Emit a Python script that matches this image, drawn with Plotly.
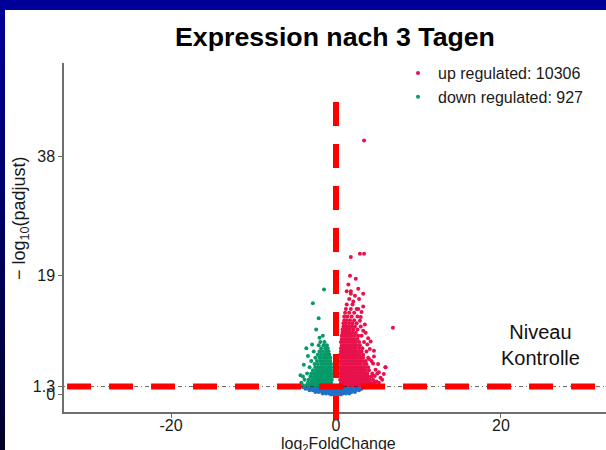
import plotly.graph_objects as go

# ---------------- data ----------------
# up regulated: rows of log2FoldChange values at given -log10(padj) levels
up_rows = {
    1.5: [0.5, 0.8, 1.1, 1.4, 1.7, 2.0, 2.3, 2.6, 2.9, 3.2, 3.5, 3.8, 4.1, 4.4, 4.8],
    1.9: [0.6, 0.9, 1.2, 1.5, 1.8, 2.1, 2.4, 2.7, 3.0, 3.3, 3.6, 3.9, 4.2, 4.6, 5.2],
    2.4: [0.5, 0.8, 1.1, 1.4, 1.7, 2.0, 2.3, 2.6, 2.9, 3.2, 3.5, 3.8, 4.1, 4.5, 5.6],
    2.9: [0.6, 0.9, 1.2, 1.5, 1.8, 2.1, 2.4, 2.7, 3.0, 3.3, 3.6, 3.9, 4.3],
    3.4: [0.5, 0.8, 1.1, 1.4, 1.7, 2.0, 2.3, 2.6, 2.9, 3.2, 3.5, 3.8, 4.4, 5.0],
    3.9: [0.6, 0.9, 1.2, 1.5, 1.8, 2.1, 2.4, 2.7, 3.0, 3.3, 3.6, 4.0],
    4.4: [0.5, 0.8, 1.1, 1.4, 1.7, 2.0, 2.3, 2.6, 2.9, 3.2, 3.5, 3.9, 6.0],
    4.9: [0.6, 0.9, 1.2, 1.5, 1.8, 2.1, 2.4, 2.7, 3.0, 3.4, 3.7],
    5.4: [0.5, 0.8, 1.1, 1.4, 1.7, 2.0, 2.3, 2.6, 2.9, 3.2, 3.6, 4.3],
    5.9: [0.6, 0.9, 1.2, 1.5, 1.8, 2.1, 2.4, 2.7, 3.0, 3.3, 3.9],
    6.4: [0.5, 0.8, 1.1, 1.4, 1.7, 2.0, 2.3, 2.6, 2.9, 3.3],
    6.9: [0.6, 0.9, 1.2, 1.5, 1.8, 2.1, 2.4, 2.7, 3.1, 3.7],
    7.4: [0.6, 0.9, 1.2, 1.5, 1.8, 2.1, 2.4, 2.8, 3.2],
    7.9: [0.7, 1.0, 1.3, 1.6, 1.9, 2.2, 2.5, 2.9],
    8.4: [0.6, 0.9, 1.2, 1.5, 1.8, 2.1, 2.4, 2.8, 3.4],
    8.9: [0.7, 1.0, 1.3, 1.6, 1.9, 2.2, 2.6],
    9.4: [0.7, 1.0, 1.3, 1.6, 1.9, 2.3, 2.7, 3.1],
    9.9: [0.8, 1.1, 1.4, 1.7, 2.0, 2.4],
    10.4: [0.8, 1.1, 1.4, 1.7, 2.1, 2.6],
    10.9: [0.9, 1.2, 1.5, 1.9, 2.3, 3.0],
    11.4: [0.9, 1.2, 1.6, 2.0, 2.5],
    11.9: [1.0, 1.3, 1.7, 2.2],
    12.5: [1.0, 1.4, 1.9, 2.6],
    13.1: [1.1, 1.6, 2.2],
    13.7: [1.2, 1.8, 2.5],
    14.4: [1.3, 2.0],
}
up_extra_x = [1.3, 1.8, 1.8, 3.3, 2.7, 1.6, 2.8, 1.7, 2.4, 1.8, 2.9, 3.4, 3.4, 6.9, 6.0,
              2.3, 1.5, 2.1, 3.1, 2.9, 3.6, 4.1, 4.6, 5.2,
              4.9, 5.4, 4.7, 4.8, 5.1, 4.5, 4.0, 4.6, 3.8, 3.9, 3.3, 3.5, 5.8, 4.2, 3.0, 2.7, 3.3]
up_extra_y = [16.5, 16.5, 16.1, 16.1, 16.9, 15.3, 15.3, 19.0, 18.5, 22.0, 22.5, 22.5, 40.6, 10.7, 4.4,
              15.8, 17.6, 14.9, 13.2, 11.8, 9.9, 7.3, 6.1, 3.6,
              2.1, 2.7, 3.0, 4.0, 4.9, 5.0, 5.7, 7.0, 8.0, 9.0, 10.2, 11.2, 3.3, 8.5, 12.4, 13.7, 14.1]

# down regulated
down_rows = {
    1.5: [-0.5, -0.8, -1.1, -1.4, -1.7, -2.0, -2.3, -2.6, -2.9, -3.2, -3.6, -4.0],
    1.9: [-0.6, -0.9, -1.2, -1.5, -1.8, -2.1, -2.4, -2.7, -3.0, -3.4, -4.2],
    2.4: [-0.5, -0.8, -1.1, -1.4, -1.7, -2.0, -2.3, -2.6, -2.9, -3.3, -3.8],
    2.9: [-0.6, -0.9, -1.2, -1.5, -1.8, -2.1, -2.4, -2.7, -3.1, -4.0],
    3.4: [-0.5, -0.8, -1.1, -1.4, -1.7, -2.0, -2.3, -2.6, -3.0, -3.5],
    3.9: [-0.6, -0.9, -1.2, -1.5, -1.8, -2.1, -2.4, -2.8],
    4.4: [-0.6, -0.9, -1.2, -1.5, -1.8, -2.1, -2.5, -3.2],
    4.9: [-0.6, -0.9, -1.2, -1.5, -1.8, -2.2, -2.6],
    5.4: [-0.7, -1.0, -1.3, -1.6, -1.9, -2.3, -3.0],
    5.9: [-0.7, -1.0, -1.3, -1.6, -2.0, -2.5],
    6.4: [-0.8, -1.1, -1.4, -1.8, -2.2],
    6.9: [-0.9, -1.2, -1.6, -2.0, -2.7],
    7.4: [-1.0, -1.3, -1.8, -3.6],
    7.9: [-1.1, -1.5, -2.1],
    8.4: [-1.4, -1.9],
}
down_extra_x = [-1.45, -2.8, -2.1, -2.4, -1.6, -2.0, -3.4, -3.9, -4.3, -2.9]
down_extra_y = [16.8, 14.6, 12.2, 10.4, 9.4, 9.1, 6.2, 4.8, 3.1, 8.0]

# not significant
ns_rows = {
    1.2: [-4.0, -3.6, -3.2, -2.8, -2.4, -2.0, -1.6, -1.2, -0.8, -0.4, 0.0, 0.4, 0.8, 1.2, 1.6, 2.0, 2.4, 2.8, 3.2, 3.6],
    0.95: [-3.7, -3.3, -2.9, -2.5, -2.1, -1.7, -1.3, -0.9, -0.5, -0.1, 0.3, 0.7, 1.1, 1.5, 1.9, 2.3, 2.7, 3.1],
    0.7: [-3.2, -2.8, -2.4, -2.0, -1.6, -1.2, -0.8, -0.4, 0.0, 0.4, 0.8, 1.2, 1.6, 2.0, 2.4, 2.8],
    0.45: [-2.5, -2.1, -1.7, -1.3, -0.9, -0.5, -0.1, 0.3, 0.7, 1.1, 1.5, 1.9, 2.3],
    0.2: [-1.6, -1.2, -0.8, -0.4, 0.0, 0.4, 0.8, 1.2, 1.6],
    0.02: [-0.6, -0.2, 0.2, 0.6],
}

up_count = 10306
down_count = 927
threshold_y = 1.3
threshold_x = 0
y_tickvals = [0, 1.3, 19, 38]
y_ticktext = ["0", "1.3", "19", "38"]
x_tickvals = [-20, 0, 20]
x_ticktext = ["-20", "0", "20"]
x_range = [-32.97, 32.73]
y_range = [-2.76, 52.96]


def expand(rows, ex=None, ey=None):
    xs, ys = [], []
    for yv, xl in rows.items():
        for xv in xl:
            xs.append(xv)
            ys.append(yv)
    if ex:
        xs += ex
        ys += ey
    return xs, ys


up_x, up_y = expand(up_rows, up_extra_x, up_extra_y)
down_x, down_y = expand(down_rows, down_extra_x, down_extra_y)
ns_x, ns_y = expand(ns_rows)

# ---------------- layout geometry ----------------
W, H = 606, 450
L, R, T, B = 64, 0, 63, 38
PW, PH = W - L - R, H - T - B


def pxx(px):
    return (px - L) / PW


def pyy(py):
    return (H - B - py) / PH


FONT = "Liberation Sans, Arial, Helvetica, sans-serif"
UP_COL = "#E8114B"
DOWN_COL = "#069A6A"
NS_COL = "#2170C8"

fig = go.Figure()
fig.add_trace(go.Scatter(x=ns_x, y=ns_y, mode="markers", showlegend=False,
                         marker=dict(color=NS_COL, size=4, line=dict(width=0)), name="not significant"))
fig.add_trace(go.Scatter(x=up_x, y=up_y, mode="markers",
                         name=f"up regulated: {up_count}",
                         marker=dict(color=UP_COL, size=4, line=dict(width=0))))
fig.add_trace(go.Scatter(x=down_x, y=down_y, mode="markers",
                         name=f"down regulated: {down_count}",
                         marker=dict(color=DOWN_COL, size=4, line=dict(width=0))))

shapes = []
# blue slide background with white panel
shapes.append(dict(type="rect", xref="paper", yref="paper", layer="below",
                   x0=pxx(5), x1=pxx(620), y0=pyy(10), y1=pyy(470),
                   fillcolor="white", line=dict(width=0)))
# left strip gradient (dark towards bottom)
nb = 22
for i in range(nb):
    top = 10 + (H - 10) * i / nb
    bot = 10 + (H - 10) * (i + 1) / nb + 1
    f = i / (nb - 1)
    b = int(150 - f * 105)
    shapes.append(dict(type="rect", xref="paper", yref="paper", layer="below",
                       x0=pxx(-2), x1=pxx(5), y0=pyy(top), y1=pyy(bot),
                       fillcolor=f"rgb(0,0,{b})", line=dict(width=0)))
# thin dot-dash threshold line
shapes.append(dict(type="line", xref="x", yref="y", layer="above",
                   x0=x_range[0], x1=x_range[1] + 1, y0=threshold_y, y1=threshold_y,
                   line=dict(color="#222222", width=0.7, dash="1px,3px,4px,3px")))
# thick red dashed overlay lines
shapes.append(dict(type="line", xref="x", yref="y", layer="above",
                   x0=-32.6, x1=x_range[1] + 1, y0=threshold_y, y1=threshold_y,
                   line=dict(color="#FF0000", width=6, dash="24px,18px")))
shapes.append(dict(type="line", xref="x", yref="paper", layer="above",
                   x0=threshold_x, x1=threshold_x, y0=pyy(102), y1=pyy(420),
                   line=dict(color="#FF0000", width=6, dash="24px,18px")))

annotations = [
    dict(text="− log<sub>10</sub>(padjust)", xref="paper", yref="paper",
         x=pxx(20), y=pyy(218), textangle=-90, showarrow=False,
         xanchor="center", yanchor="middle", font=dict(size=18, color="#1a1a1a", family=FONT)),
    dict(text="log<sub>2</sub>FoldChange", xref="paper", yref="paper",
         x=pxx(338), y=pyy(444), showarrow=False,
         xanchor="center", yanchor="middle", font=dict(size=16, color="#1a1a1a", family=FONT)),
    dict(text="Niveau<br>Kontrolle", xref="x", yref="y", x=24.85, y=8.0,
         showarrow=False, xanchor="center", yanchor="middle", align="center",
         font=dict(size=20, color="#111111", family=FONT)),
]

fig.update_layout(
    template="none",
    width=W, height=H,
    margin=dict(l=L, r=R, t=T, b=B, pad=0),
    paper_bgcolor="#000099",
    plot_bgcolor="white",
    font=dict(family=FONT, size=16, color="#1a1a1a"),
    title=dict(text="<b>Expression nach 3 Tagen</b>", xref="container", yref="container",
               x=335 / W, y=1 - 37 / H, xanchor="center", yanchor="middle",
               font=dict(size=26.7, color="#000000", family=FONT)),
    xaxis=dict(range=x_range, tickvals=x_tickvals, ticktext=x_ticktext,
               showgrid=False, zeroline=False, showline=True, linecolor="#6e6e6e", linewidth=1.5,
               ticks="outside", ticklen=4, tickcolor="#6e6e6e", tickwidth=1,
               ticklabelstandoff=-6,
               tickfont=dict(size=16, color="#1a1a1a")),
    yaxis=dict(range=y_range, tickvals=y_tickvals, ticktext=y_ticktext,
               showgrid=False, zeroline=False, showline=True, linecolor="#6e6e6e", linewidth=1.5,
               ticks="outside", ticklen=4, tickcolor="#6e6e6e", tickwidth=1,
               tickfont=dict(size=16, color="#1a1a1a")),
    legend=dict(x=pxx(398), y=pyy(56), xanchor="left", yanchor="top",
                bgcolor="rgba(0,0,0,0)", borderwidth=0,
                font=dict(size=16, color="#1a1a1a", family=FONT),
                itemwidth=30, tracegroupgap=0),
    shapes=shapes,
    annotations=annotations,
    showlegend=True,
)

fig.write_html("out.html")
